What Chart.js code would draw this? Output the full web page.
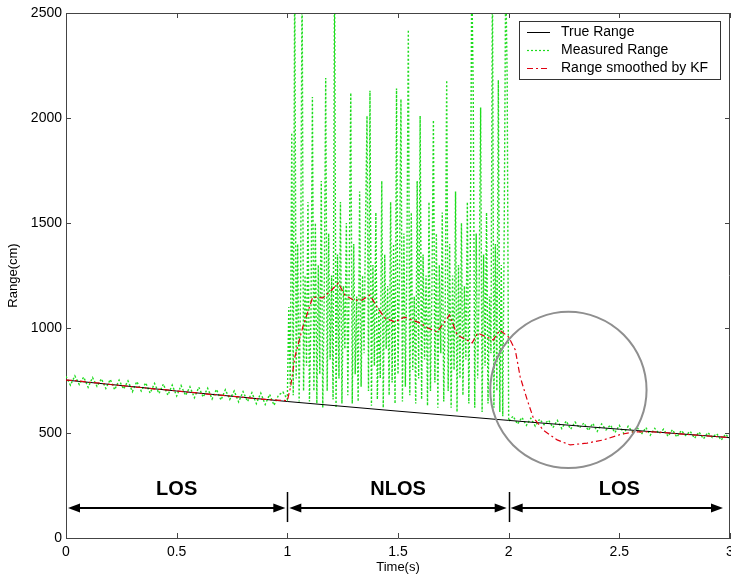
<!DOCTYPE html>
<html>
<head>
<meta charset="utf-8">
<script src="https://cdn.jsdelivr.net/npm/chart.js@4.4.0/dist/chart.umd.min.js"></script>
<style>
  html, body { margin: 0; padding: 0; background: #fff; overflow: hidden; }
</style>
</head>
<body>
<canvas id="rangeChart" width="731" height="578"></canvas>
<script>
// true range (cm), read at a few times
const trueTimes = [0, 0.5, 1, 1.5, 2, 2.5, 3];
const trueRange = [752, 700, 650, 604, 560, 518, 478];

// measured range, LOS part 0..0.98 s (every 0.02 s)
const measuredLos1 = [
  770, 728, 772, 731, 766, 718, 764, 722, 758, 712,
  755, 706, 752, 709, 748, 697, 745, 700, 739, 690,
  736, 688, 733, 680, 728, 676, 726, 679, 720, 668,
  718, 671, 713, 662, 708, 657, 706, 660, 700, 648,
  697, 650, 692, 640, 690, 636, 684, 632, 680, 695
];
// measured range, NLOS part 1.00..2.00 s (every 1/150 s)
const measuredNlos = [
  660, 1100, 720, 1930, 680, 2700, 760, 1400, 650, 1200,
  2700, 700, 1250, 820, 1600, 650, 1050, 2100, 700, 1500,
  640, 1300, 780, 1700, 620, 1150, 2190, 700, 1450, 850,
  1250, 660, 2700, 620, 1350, 760, 1600, 640, 1200, 900,
  1500, 680, 1300, 2120, 640, 1400, 780, 1150, 650, 1650,
  720, 1250, 880, 1500, 2010, 700, 2130, 630, 1300, 820,
  1550, 660, 1100, 760, 1700, 620, 1350, 900, 1200, 680,
  1600, 740, 1400, 640, 2140, 780, 1250, 2090, 650, 1450,
  720, 1300, 2420, 680, 1550, 800, 1150, 640, 1700, 760,
  2010, 660, 1350, 850, 1250, 630, 1600, 700, 1200, 1990,
  740, 1450, 620, 1300, 880, 1550, 650, 1100, 2180, 700,
  1400, 620, 1250, 800, 1650, 600, 1300, 760, 1500, 680,
  1200, 850, 1600, 640, 1350, 2700, 2100, 620, 1450, 760,
  1200, 2050, 600, 1350, 820, 1550, 640, 1150, 880, 2700,
  620, 1400, 700, 2180, 600, 1300, 580, 1500, 2700, 2180
];
// measured range, LOS part 2.00..3.00 s (every 0.02 s)
const measuredLos2 = [
  556, 580, 542, 574, 536, 570, 533, 566, 540, 561,
  526, 560, 521, 557, 518, 552, 524, 548, 512, 546,
  508, 543, 515, 538, 502, 536, 498, 532, 505, 528,
  494, 526, 490, 522, 497, 518, 484, 516, 481, 512,
  488, 508, 475, 505, 472, 502, 479, 497, 466, 494,
  472
];

// Kalman filter output
const kfTimes = [
  0, 0.05, 0.1, 0.15, 0.2, 0.25, 0.3, 0.35, 0.4, 0.45,
  0.5, 0.55, 0.6, 0.65, 0.7, 0.75, 0.8, 0.85, 0.9, 0.95,
  1.0, 1.015, 1.034, 1.07, 1.115, 1.16, 1.2, 1.23, 1.26, 1.3,
  1.337, 1.373, 1.405, 1.44, 1.486, 1.53, 1.563, 1.6, 1.635, 1.677,
  1.7, 1.733, 1.767, 1.794, 1.835, 1.86, 1.9, 1.93, 1.96, 2.0,
  2.03, 2.052, 2.084, 2.11, 2.156, 2.219, 2.278, 2.355, 2.428, 2.505,
  2.563, 2.64, 2.7, 2.744, 2.8, 2.86, 2.94, 3.0
];
const kfRange = [
  752, 749, 742, 738, 731, 726, 720, 716, 709, 706,
  700, 695, 690, 684, 680, 675, 670, 664, 660, 657,
  654, 720, 862, 1005, 1148, 1143, 1181, 1214, 1157, 1133,
  1133, 1157, 1100, 1048, 1029, 1052, 1038, 1024, 1000, 981,
  1014, 1062, 967, 952, 929, 976, 957, 943, 990, 957,
  895, 767, 657, 576, 514, 467, 443, 452, 467, 493,
  505, 506, 502, 498, 494, 489, 483, 478
];

const zones = [
  { label: 'LOS', from: 0, to: 1 },
  { label: 'NLOS', from: 1, to: 2 },
  { label: 'LOS', from: 2, to: 3 }
];

const fontFamily = '"Liberation Sans", Arial, Helvetica, sans-serif';

function toPoints(times, values) {
  return values.map((v, i) => ({ x: times[i], y: v }));
}

const measuredPoints = [];
measuredLos1.forEach((v, i) => measuredPoints.push({ x: i * 0.02, y: v }));
measuredNlos.forEach((v, i) => measuredPoints.push({ x: 1 + i / 150, y: v }));
measuredLos2.forEach((v, i) => measuredPoints.push({ x: 2 + i * 0.02, y: v }));


function line(ctx, x1, y1, x2, y2) {
  ctx.beginPath();
  ctx.moveTo(x1, y1);
  ctx.lineTo(x2, y2);
  ctx.stroke();
}

function arrowHead(ctx, x, y, dir) {
  ctx.beginPath();
  ctx.moveTo(x, y);
  ctx.lineTo(x - dir * 12, y - 4.5);
  ctx.lineTo(x - dir * 12, y + 4.5);
  ctx.closePath();
  ctx.fill();
}

const overlay = {
  id: 'overlay',
  afterDatasetsDraw(chart) {
    const ctx = chart.ctx;
    const area = chart.chartArea;
    const x = chart.scales.x;
    const y = chart.scales.y;
    ctx.save();

    // axes box and inner ticks
    ctx.strokeStyle = '#444';
    ctx.lineWidth = 1;
    line(ctx, area.left, area.top + 0.5, area.right, area.top + 0.5);
    line(ctx, area.right - 0.5, area.top, area.right - 0.5, area.bottom);
    x.ticks.forEach(t => {
      const px = Math.round(x.getPixelForValue(t.value)) + 0.5;
      line(ctx, px, area.bottom, px, area.bottom - 5);
      line(ctx, px, area.top, px, area.top + 5);
    });
    y.ticks.forEach(t => {
      const py = Math.round(y.getPixelForValue(t.value)) + 0.5;
      line(ctx, area.left, py, area.left + 5, py);
      line(ctx, area.right, py, area.right - 5, py);
    });

    // highlight circle
    const cx = x.getPixelForValue(2.27);
    const cy = y.getPixelForValue(705);
    const r = x.getPixelForValue(2.27 + 0.353) - cx;
    ctx.strokeStyle = '#8f8f8f';
    ctx.lineWidth = 2;
    ctx.beginPath();
    ctx.arc(cx, cy, r, 0, Math.PI * 2);
    ctx.stroke();

    // LOS / NLOS zones
    const arrowY = y.getPixelForValue(143);
    const textY = y.getPixelForValue(230);
    ctx.strokeStyle = '#000';
    ctx.fillStyle = '#000';
    ctx.font = 'bold 20px ' + fontFamily;
    ctx.textAlign = 'center';
    ctx.textBaseline = 'middle';
    zones.forEach((z, i) => {
      const a = x.getPixelForValue(z.from) + 2;
      const b = x.getPixelForValue(z.to) - (i === zones.length - 1 ? 7 : 2);
      ctx.lineWidth = 2;
      line(ctx, a + 6, arrowY, b - 6, arrowY);
      arrowHead(ctx, a, arrowY, -1);
      arrowHead(ctx, b, arrowY, 1);
      ctx.fillText(z.label, x.getPixelForValue((z.from + z.to) / 2), textY);
      if (i > 0) {
        const sx = Math.round(x.getPixelForValue(z.from)) + 0.5;
        ctx.lineWidth = 1.5;
        line(ctx, sx, y.getPixelForValue(219), sx, y.getPixelForValue(76));
      }
    });

    // legend box
    const items = chart.data.datasets;
    ctx.font = '14px ' + fontFamily;
    ctx.textAlign = 'left';
    const textW = Math.max(...items.map(d => ctx.measureText(d.label).width));
    const boxW = Math.round(8 + 23 + 11 + textW + 12);
    const boxR = area.right - 10;
    const boxT = area.top + 8;
    const boxL = boxR - boxW;
    ctx.fillStyle = '#fff';
    ctx.fillRect(boxL, boxT, boxW, 58);
    ctx.strokeStyle = '#333';
    ctx.lineWidth = 1;
    ctx.strokeRect(boxL + 0.5, boxT + 0.5, boxW, 58);
    items.forEach((d, i) => {
      const rowY = boxT + 11.5 + i * 18;
      ctx.strokeStyle = d.borderColor;
      ctx.lineWidth = Math.min(d.borderWidth, 1.2);
      ctx.setLineDash(d.borderDash || []);
      line(ctx, boxL + 8, rowY, boxL + 31, rowY);
      ctx.setLineDash([]);
      ctx.fillStyle = '#000';
      ctx.fillText(d.label, boxL + 42, rowY);
    });

    ctx.restore();
  }
};

new Chart('rangeChart', {
  type: 'line',
  data: {
    datasets: [
      {
        label: 'True Range',
        data: toPoints(trueTimes, trueRange),
        borderColor: '#000',
        borderWidth: 1,
        order: 1
      },
      {
        label: 'Measured Range',
        data: measuredPoints,
        borderColor: 'rgb(30,220,30)',
        borderWidth: 1.4,
        borderDash: [2, 2],
        order: 2
      },
      {
        label: 'Range smoothed by KF',
        data: toPoints(kfTimes, kfRange),
        borderColor: '#e00010',
        borderWidth: 1.2,
        borderDash: [6, 3, 2, 3],
        order: 0
      }
    ]
  },
  options: {
    responsive: false,
    animation: false,
    layout: { padding: { top: 13, right: 1, left: 0, bottom: 0 } },
    elements: { point: { radius: 0 }, line: { tension: 0 } },
    plugins: { legend: { display: false }, tooltip: { enabled: false } },
    scales: {
      x: {
        type: 'linear',
        min: 0,
        max: 3,
        ticks: {
          stepSize: 0.5,
          maxRotation: 0,
          padding: 6,
          color: '#000',
          font: { size: 14, family: fontFamily },
          callback: v => String(v)
        },
        grid: { display: false, drawTicks: false },
        border: { display: true, color: '#444' },
        title: {
          display: true,
          text: 'Time(s)',
          color: '#000',
          font: { size: 13, family: fontFamily },
          padding: { top: 0, bottom: 3 }
        },
        afterFit: s => { s.height = 40; s.paddingRight = 0; }
      },
      y: {
        min: 0,
        max: 2500,
        ticks: {
          stepSize: 500,
          padding: 4,
          color: '#000',
          font: { size: 14, family: fontFamily },
          callback: v => String(v)
        },
        grid: { display: false, drawTicks: false },
        border: { display: true, color: '#444' },
        title: {
          display: true,
          text: 'Range(cm)',
          color: '#000',
          font: { size: 13, family: fontFamily },
          padding: { top: 6, bottom: 4 }
        },
        afterFit: s => { s.width = 66; }
      }
    }
  },
  plugins: [overlay]
});
</script>
</body>
</html>
